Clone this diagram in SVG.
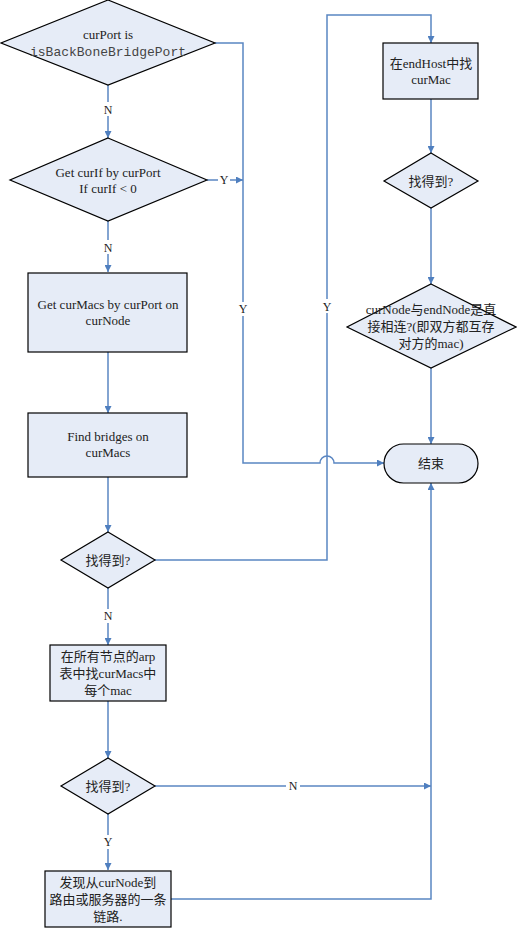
<svg xmlns="http://www.w3.org/2000/svg" width="517" height="928" viewBox="0 0 517 928">
<style>
.s{fill:#E6ECF7;stroke:#000;stroke-width:1.2}
.c{fill:none;stroke:#5A86C2;stroke-width:1.5}
.t{font-family:"Liberation Serif","Noto Sans CJK SC",serif;font-size:13px;fill:#222;text-anchor:middle}
.m{font-family:"Liberation Mono",monospace;font-size:13px;fill:#444;text-anchor:middle}
.l{font-family:"Liberation Serif",serif;font-size:12px;fill:#222;text-anchor:middle}
.bg{fill:#fff}
</style>
<defs>
<marker id="a" viewBox="0 0 10 10" refX="10" refY="5" markerWidth="8" markerHeight="7" orient="auto" markerUnits="userSpaceOnUse">
<path d="M0,0L10,5L0,10z" fill="#4F7FBF"/>
</marker>
</defs>
<rect width="517" height="928" fill="#fff"/>
<g id="connectors">
<path class="c" d="M108,85V138" marker-end="url(#a)"/>
<path class="c" d="M108,221V272" marker-end="url(#a)"/>
<path class="c" d="M108,352V413" marker-end="url(#a)"/>
<path class="c" d="M108,477V532" marker-end="url(#a)"/>
<path class="c" d="M108,588V645" marker-end="url(#a)"/>
<path class="c" d="M108,701V758" marker-end="url(#a)"/>
<path class="c" d="M108,814V870" marker-end="url(#a)"/>
<path class="c" d="M215,43H243V463H320A7,7 0 0 1 334,463H384" marker-end="url(#a)"/>
<path class="c" d="M207,180H243" marker-end="url(#a)"/>
<path class="c" d="M155,560H327V15H431V43" marker-end="url(#a)"/>
<path class="c" d="M431,99V153" marker-end="url(#a)"/>
<path class="c" d="M431,208V284" marker-end="url(#a)"/>
<path class="c" d="M431,368V444" marker-end="url(#a)"/>
<path class="c" d="M155,786H431" marker-end="url(#a)"/>
<path class="c" d="M171,899H431V483" marker-end="url(#a)"/>
<rect class="bg" x="101" y="102" width="14" height="14"/>
<text class="l" x="108" y="114">N</text>
<rect class="bg" x="101" y="240" width="14" height="14"/>
<text class="l" x="108" y="252">N</text>
<rect class="bg" x="218" y="173" width="12" height="14"/>
<text class="l" x="224" y="184">Y</text>
<rect class="bg" x="237" y="302" width="12" height="14"/>
<text class="l" x="243" y="313">Y</text>
<rect class="bg" x="321" y="299" width="12" height="14"/>
<text class="l" x="327" y="311">Y</text>
<rect class="bg" x="101" y="609" width="14" height="14"/>
<text class="l" x="108" y="620">N</text>
<rect class="bg" x="286" y="779" width="14" height="14"/>
<text class="l" x="293" y="790">N</text>
<rect class="bg" x="101" y="835" width="14" height="14"/>
<text class="l" x="108" y="846">Y</text>
</g>
<g id="d1">
<polygon class="s" points="108,0 215,43 108,85 1,43"/>
<text class="t" x="108" y="39">curPort is</text>
<text class="m" x="108" y="56">isBackBoneBridgePort</text>
</g>
<g id="d2">
<polygon class="s" points="108,138 207,180 108,221 10,180"/>
<text class="t" x="108" y="177">Get curIf by curPort</text>
<text class="t" x="108" y="193">If curIf &lt; 0</text>
</g>
<g id="b1">
<rect class="s" x="28" y="273" width="159" height="79"/>
<text class="t" x="108" y="309">Get curMacs by curPort on</text>
<text class="t" x="108" y="325">curNode</text>
</g>
<g id="b2">
<rect class="s" x="28" y="413" width="159" height="64"/>
<text class="t" x="108" y="441">Find bridges on</text>
<text class="t" x="108" y="457">curMacs</text>
</g>
<g id="d3">
<polygon class="s" points="108,532 155,560 108,588 61,560"/>
<text class="t" x="108" y="565">找得到?</text>
</g>
<g id="b3">
<rect class="s" x="50" y="645" width="116" height="56"/>
<text class="t" x="108" y="661">在所有节点的arp</text>
<text class="t" x="108" y="678">表中找curMacs中</text>
<text class="t" x="108" y="695">每个mac</text>
</g>
<g id="d4">
<polygon class="s" points="108,758 155,786 108,814 61,786"/>
<text class="t" x="108" y="791">找得到?</text>
</g>
<g id="b4">
<rect class="s" x="45" y="871" width="126" height="56"/>
<text class="t" x="108" y="887">发现从curNode到</text>
<text class="t" x="108" y="904">路由或服务器的一条</text>
<text class="t" x="108" y="921">链路.</text>
</g>
<g id="b5">
<rect class="s" x="383" y="43" width="95" height="56"/>
<text class="t" x="431" y="68">在endHost中找</text>
<text class="t" x="431" y="84">curMac</text>
</g>
<g id="d5">
<polygon class="s" points="431,153 478,181 431,208 384,181"/>
<text class="t" x="431" y="186">找得到?</text>
</g>
<g id="d6">
<polygon class="s" points="431,284 516,327 431,368 347,327"/>
<text class="t" x="431" y="314">curNode与endNode是直</text>
<text class="t" x="431" y="331">接相连?(即双方都互存</text>
<text class="t" x="431" y="348">对方的mac)</text>
</g>
<g id="end">
<rect class="s" x="384" y="444" width="94" height="39" rx="19.5"/>
<text class="t" x="431" y="468">结束</text>
</g>
</svg>
